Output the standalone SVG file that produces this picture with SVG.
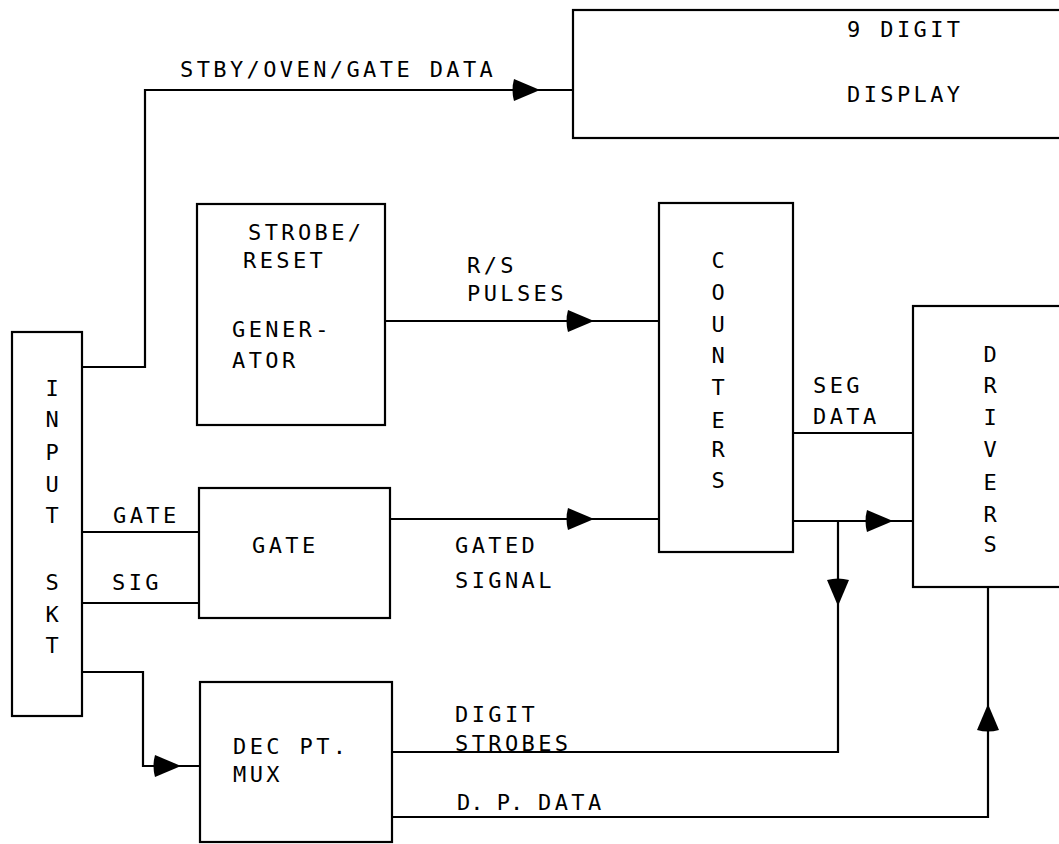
<svg xmlns="http://www.w3.org/2000/svg" width="1059" height="844" viewBox="0 0 1059 844">
<style>
.box{fill:none;stroke:#000;stroke-width:2.2}
.ln{fill:none;stroke:#000;stroke-width:2.2}
text{font-family:"DejaVu Sans Mono","Liberation Mono",monospace;font-size:22px;letter-spacing:3.4px;fill:#000}
.v{text-anchor:middle;letter-spacing:0}
</style>
<defs>
<path id="arr" d="M0,0 L-26,-11 Q-29,0 -26,11 Z" fill="#000"/>
</defs>
<rect width="1059" height="844" fill="#fff"/>
<g id="connectors">
<polyline class="ln" points="82,367 145,367 145,90 573,90"/>
<use href="#arr" transform="translate(540,90)"/>
<line class="ln" x1="385" y1="321" x2="659" y2="321"/>
<use href="#arr" transform="translate(594,321)"/>
<line class="ln" x1="82" y1="532" x2="199" y2="532"/>
<line class="ln" x1="82" y1="603" x2="199" y2="603"/>
<line class="ln" x1="390" y1="519" x2="659" y2="519"/>
<use href="#arr" transform="translate(594,519)"/>
<line class="ln" x1="793" y1="433" x2="913" y2="433"/>
<line class="ln" x1="793" y1="521" x2="913" y2="521"/>
<use href="#arr" transform="translate(893,521)"/>
<polyline class="ln" points="838,521 838,752 392,752"/>
<use href="#arr" transform="translate(838,606) rotate(90)"/>
<polyline class="ln" points="82,672 143,672 143,766 200,766"/>
<use href="#arr" transform="translate(181,766)"/>
<polyline class="ln" points="392,817 988,817 988,587"/>
<use href="#arr" transform="translate(988,704) rotate(-90)"/>
<text x="180" y="77">STBY/OVEN/GATE DATA</text>
<text x="467" y="273">R/S</text>
<text x="467" y="301">PULSES</text>
<text x="113" y="523">GATE</text>
<text x="112" y="590">SIG</text>
<text x="455" y="553">GATED</text>
<text x="455" y="588">SIGNAL</text>
<text x="813" y="393">SEG</text>
<text x="813" y="424">DATA</text>
<text x="455" y="722">DIGIT</text>
<text x="455" y="751">STROBES</text>
<text x="457" y="810" style="letter-spacing:0">D. P. <tspan x="538" style="letter-spacing:3.4px">DATA</tspan></text>
</g>
<g id="display">
<rect class="box" x="573" y="10" width="500" height="128"/>
<text x="847" y="37">9 DIGIT</text>
<text x="847" y="102">DISPLAY</text>
</g>
<g id="strobe-reset">
<rect class="box" x="197" y="204" width="188" height="221"/>
<text x="248" y="240">STROBE/</text>
<text x="243" y="268">RESET</text>
<text x="232" y="337">GENER-</text>
<text x="232" y="368">ATOR</text>
</g>
<g id="counters">
<rect class="box" x="659" y="203" width="134" height="349"/>
<text class="v" x="718" y="268">C</text>
<text class="v" x="718" y="300">O</text>
<text class="v" x="718" y="332">U</text>
<text class="v" x="718" y="363">N</text>
<text class="v" x="718" y="395">T</text>
<text class="v" x="718" y="428">E</text>
<text class="v" x="718" y="457">R</text>
<text class="v" x="718" y="488">S</text>
</g>
<g id="drivers">
<rect class="box" x="913" y="306" width="160" height="281"/>
<text class="v" x="990" y="362">D</text>
<text class="v" x="990" y="393">R</text>
<text class="v" x="990" y="425">I</text>
<text class="v" x="990" y="457">V</text>
<text class="v" x="990" y="490">E</text>
<text class="v" x="990" y="522">R</text>
<text class="v" x="990" y="552">S</text>
</g>
<g id="input-skt">
<rect class="box" x="12" y="332" width="70" height="384"/>
<text class="v" x="52" y="396">I</text>
<text class="v" x="52" y="427">N</text>
<text class="v" x="52" y="460">P</text>
<text class="v" x="52" y="492">U</text>
<text class="v" x="52" y="523">T</text>
<text class="v" x="52" y="590">S</text>
<text class="v" x="52" y="622">K</text>
<text class="v" x="52" y="653">T</text>
</g>
<g id="gate">
<rect class="box" x="199" y="488" width="191" height="130"/>
<text x="252" y="553">GATE</text>
</g>
<g id="dec-pt-mux">
<rect class="box" x="200" y="682" width="192" height="160"/>
<text x="233" y="754">DEC PT.</text>
<text x="233" y="782">MUX</text>
</g>
</svg>
